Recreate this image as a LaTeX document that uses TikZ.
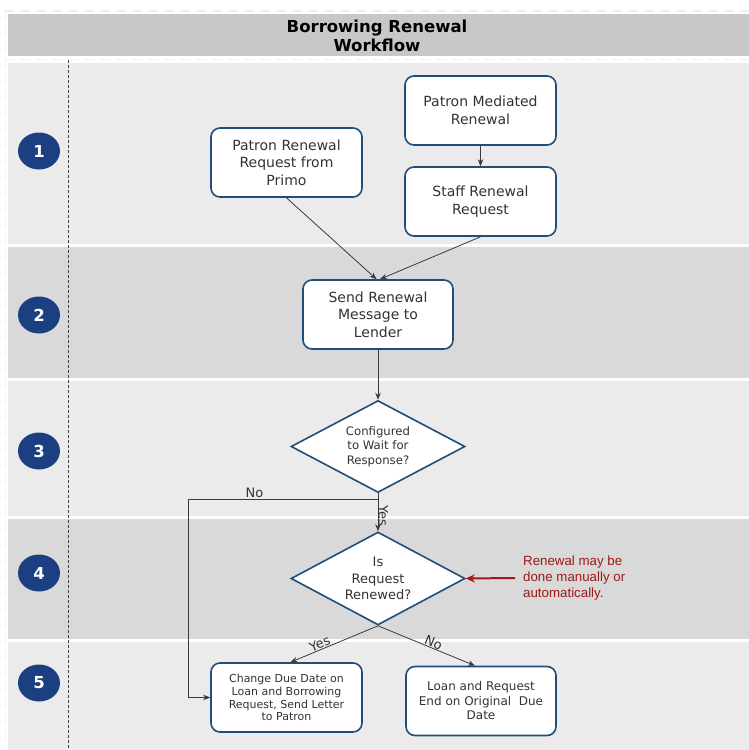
\documentclass[tikz,border=0pt]{standalone}
\usepackage{fontspec}
\setmainfont{DejaVu Sans}
\newfontfamily\arialf{Liberation Sans}
\usetikzlibrary{shapes.geometric,arrows.meta}
\definecolor{lanelight}{HTML}{EBEBEB}
\definecolor{lanedark}{HTML}{D9D9D9}
\definecolor{headgray}{HTML}{C8C8C8}
\definecolor{navy}{HTML}{1B3F80}
\definecolor{boxblue}{HTML}{1F4E79}
\definecolor{txt}{HTML}{333333}
\definecolor{note}{HTML}{A01818}
\definecolor{edge}{HTML}{3A3A3A}
\definecolor{faint}{HTML}{F0F0F0}
\begin{document}
\begin{tikzpicture}[x=1pt,y=-1pt,
 num/.style={ellipse,fill=navy,minimum width=42pt,minimum height=37pt,inner sep=0,text=white,font=\fontsize{16.5}{18}\selectfont\bfseries},
 box/.style={draw=boxblue,line width=1.6pt,rounded corners=9pt,fill=white,minimum width=151pt,minimum height=69pt,align=center,text=txt,inner sep=0},
 dia/.style={diamond,draw=boxblue,line width=1.6pt,fill=white,minimum width=174pt,minimum height=92pt,inner sep=0},
 dtext/.style={align=center,text=txt,inner sep=0},
 flow/.style={draw=edge,line width=0.8pt,-{Stealth[length=7pt,width=5.5pt]}},
 lbl/.style={text=txt,font=\fontsize{13}{15}\selectfont,inner sep=1pt},
 bigfont/.style={font=\fontsize{14}{17.5}\selectfont}
]
\useasboundingbox (0,0) rectangle (749,750);
% faint page marks
\draw[faint,line width=1.2pt,dash pattern=on 9pt off 7pt] (5,11) -- (749,11);
\draw[faint,line width=1.2pt,dash pattern=on 9pt off 7pt] (5,59.5) -- (749,59.5);
\draw[faint,line width=1.2pt,dash pattern=on 9pt off 7pt] (5.5,11) -- (5.5,750);
% header
\fill[headgray] (8,14) rectangle (749,56);
\node[font=\fontsize{16.5}{19}\selectfont\bfseries,align=center,inner sep=0] (title) at (377,35.5) {Borrowing Renewal\\Workflow};
% lanes
\fill[lanelight] (8,63) rectangle (749,244);
\fill[lanedark] (8,246.5) rectangle (749,378);
\fill[lanelight] (8,381) rectangle (749,516);
\fill[lanedark] (8,519) rectangle (749,639);
\fill[lanelight] (8,642) rectangle (749,750);
\draw[black!75,line width=0.9pt,dash pattern=on 3pt off 2pt] (68,60) -- (68,750);
% lane numbers
\node[num] (n1) at (39,151) {1};
\node[num] (n2) at (39,315) {2};
\node[num] (n3) at (39,451) {3};
\node[num] (n4) at (39,573) {4};
\node[num] (n5) at (39,683) {5};
% nodes
\node[box,bigfont] (primo) at (286.5,162.5) {Patron Renewal\\Request from\\Primo};
\node[box,bigfont] (mediated) at (480.5,110.5) {Patron Mediated\\Renewal};
\node[box,bigfont] (staff) at (480.5,201.5) {Staff Renewal\\Request};
\node[box,bigfont,minimum width=150pt] (send) at (378,314.5) {Send Renewal\\Message to\\Lender};
\node[dia] (cfg) at (378,446.5) {};
\node[dtext,font=\fontsize{11.7}{14.3}\selectfont] (cfgtext) at (cfg) {Configured\\to Wait for\\Response?};
\node[dia,minimum height=93pt] (ren) at (378,578.5) {};
\node[dtext,font=\fontsize{13}{16.3}\selectfont] (rentext) at (ren) {Is\\Request\\Renewed?};
\node[box,font=\fontsize{11}{12.8}\selectfont] (change) at (286.5,697.5) {Change Due Date on\\Loan and Borrowing\\Request, Send Letter\\to Patron};
\node[box,font=\fontsize{12}{14.5}\selectfont,minimum width=150pt] (loanend) at (481,701) {Loan and Request\\End on Original~ Due\\Date};
\node[anchor=west,align=left,inner sep=0,text=note,font=\arialf\fontsize{13.3}{16.3}\selectfont] (notetext) at (523,578) {Renewal may be\\done manually or\\automatically.};
% connectors
\draw[flow] (mediated) -- (staff);
\draw[flow] (primo.south) -- ([xshift=-1.5pt]send.north);
\draw[flow] (staff.south) -- ([xshift=2pt]send.north);
\draw[flow] (send) -- (cfg);
\draw[flow] (cfg.south) -- node[lbl,rotate=-90,anchor=south,pos=0.6,yshift=-1pt]{Yes} (ren.north);
\coordinate (split) at (378,499.5);
\coordinate (noturn) at (188,499.5);
\draw[flow] (split) -- node[lbl,above,pos=0.65]{No} (noturn) |- (change.west);
\draw[flow] (ren.south) -- node[lbl,sloped,above,pos=0.64,inner sep=0.5pt]{Yes} ([xshift=4pt]change.north);
\draw[flow] (ren.south) -- node[lbl,sloped,above,pos=0.55,inner sep=0.5pt]{No} ([xshift=-6pt]loanend.north);
\draw[note,line width=2pt,-{Stealth[length=9pt,width=8pt]}] ([xshift=-8pt]notetext.west) -- (ren.east);
\end{tikzpicture}
\end{document}
